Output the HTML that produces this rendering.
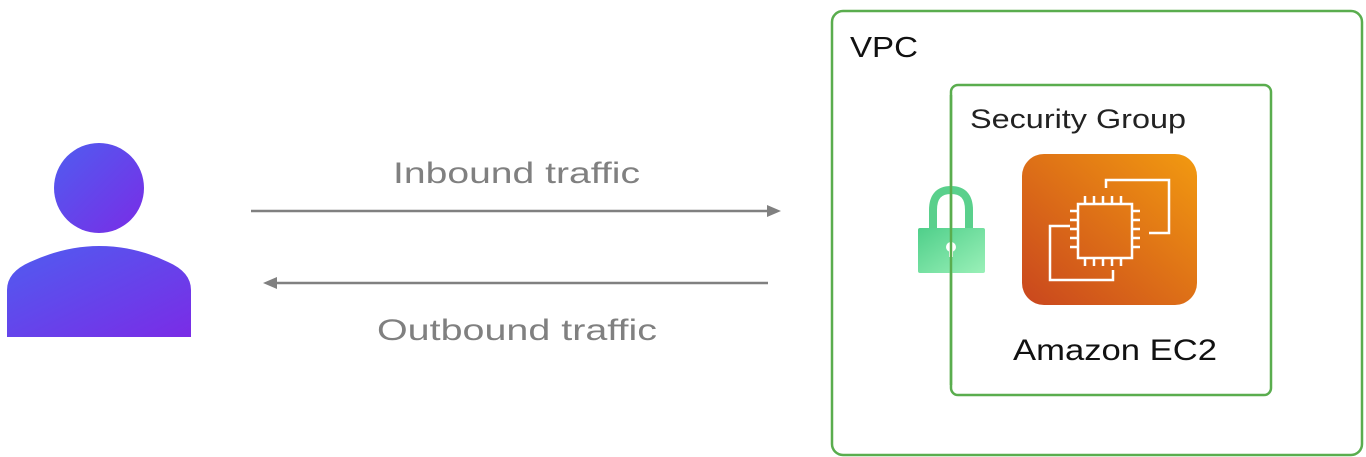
<!DOCTYPE html>
<html><head><meta charset="utf-8"><style>html,body{margin:0;padding:0;background:#fff;}svg{display:block}</style></head>
<body>
<svg width="1366" height="457" viewBox="0 0 1366 457" xmlns="http://www.w3.org/2000/svg" font-family="Liberation Sans, sans-serif">
<defs>
<linearGradient id="pg" x1="0" y1="0" x2="1" y2="1"><stop offset="0" stop-color="#4f5df0"/><stop offset="1" stop-color="#7a2ce6"/></linearGradient>
<linearGradient id="og" x1="0" y1="1" x2="1" y2="0"><stop offset="0" stop-color="#c9461e"/><stop offset="1" stop-color="#f29a10"/></linearGradient>
<linearGradient id="lg" x1="0" y1="0" x2="1" y2="1"><stop offset="0" stop-color="#4fcf8a"/><stop offset="1" stop-color="#9af0b8"/></linearGradient>
</defs>
<circle cx="99" cy="188" r="45" fill="url(#pg)"/>
<path d="M7 337 L7 290 Q7 272 30 262 Q65 246 99 246 Q135 246 168 262 Q191 272 191 290 L191 337 Z" fill="url(#pg)"/>
<line x1="251" y1="211" x2="770" y2="211" stroke="#808080" stroke-width="2.5"/>
<polygon points="781,211 767,205 767,217" fill="#808080"/>
<line x1="274" y1="283" x2="768" y2="283" stroke="#808080" stroke-width="2.5"/>
<polygon points="263,283 277,277 277,289" fill="#808080"/>
<text x="393" y="183" font-size="30" fill="#808080" textLength="247" lengthAdjust="spacingAndGlyphs">Inbound traffic</text>
<text x="377" y="340" font-size="30" fill="#808080" textLength="280" lengthAdjust="spacingAndGlyphs">Outbound traffic</text>
<rect x="832" y="11" width="530" height="444" rx="11" fill="none" stroke="#5aad4e" stroke-width="2.5"/>
<text x="850" y="57" font-size="29" fill="#111" textLength="68" lengthAdjust="spacingAndGlyphs">VPC</text>
<rect x="951" y="85" width="320" height="310" rx="7" fill="none" stroke="#5aad4e" stroke-width="2.5"/>
<text x="970" y="128" font-size="27" fill="#222" textLength="216" lengthAdjust="spacingAndGlyphs">Security Group</text>
<path d="M933 230 L933 210 Q933 190 951 190 Q969 190 969 210 L969 230" fill="none" stroke="#5ad08c" stroke-width="8"/>
<rect x="918" y="228" width="67" height="45" rx="2" fill="url(#lg)"/>
<circle cx="951" cy="247" r="5" fill="#fff"/>
<rect x="949" y="247" width="4" height="10" fill="#fff"/>
<line x1="951" y1="95" x2="951" y2="385" stroke="#5aad4e" stroke-width="2.5"/>
<rect x="1022" y="154" width="175" height="151" rx="22" fill="url(#og)"/>
<g fill="none" stroke="#fff" stroke-width="2.5">
<path d="M1106 188 L1106 180 L1169 180 L1169 233 L1149 233"/>
<path d="M1070 226 L1050 226 L1050 280 L1113 280 L1113 270"/>
<rect x="1078" y="204" width="54" height="54"/>
<path d="M1085 204v-8M1094 204v-8M1103 204v-8M1112 204v-8M1121 204v-8M1085 258v8M1094 258v8M1103 258v8M1112 258v8M1121 258v8M1078 211h-8M1078 220h-8M1078 229h-8M1078 238h-8M1078 247h-8M1132 211h8M1132 220h8M1132 229h8M1132 238h8M1132 247h8"/>
</g>
<text x="1013" y="360" font-size="30" fill="#111" textLength="204" lengthAdjust="spacingAndGlyphs">Amazon EC2</text>
</svg>
</body></html>
